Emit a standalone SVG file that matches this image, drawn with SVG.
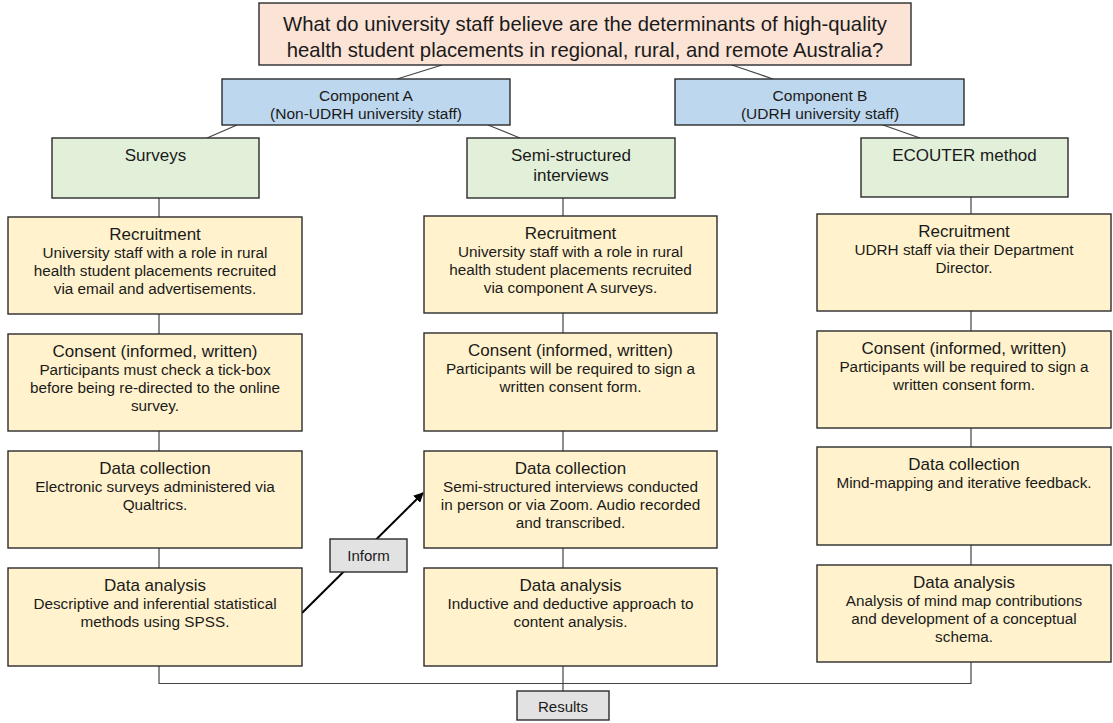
<svg xmlns="http://www.w3.org/2000/svg" width="1113" height="723" viewBox="0 0 1113 723">
<defs>
<style>
.bx{stroke:#2b2b2b;stroke-width:1.4}
.q{fill:#fbe3d6}
.c{fill:#bdd7ee}
.g{fill:#e2efd9}
.y{fill:#fff2cc}
.gr{fill:#e2e2e2}
text{font-family:"Liberation Sans",Arial,sans-serif;fill:#1a1a1a;text-anchor:middle}
.qt{font-size:20.3px}
.ct{font-size:15.5px}
.lt{font-size:15px}
.ht{font-size:17px}
.bt{font-size:15.3px}
.conn line,.conn polyline{stroke:#444;stroke-width:1.2;fill:none}
</style>
<marker id="ah" markerWidth="10" markerHeight="10" refX="9" refY="5" orient="auto" markerUnits="userSpaceOnUse">
<path d="M0,0 L10,5 L0,10 Z" fill="#000"/>
</marker>
<clipPath id="clipA"><rect x="222" y="79" width="288" height="46"/></clipPath>
<clipPath id="clipB"><rect x="675" y="79" width="289" height="46"/></clipPath>
</defs>
<rect width="1113" height="723" fill="#fff"/>

<g id="connectors" class="conn">
<line x1="442" y1="65" x2="397" y2="79"/>
<line x1="732" y1="65" x2="773" y2="79"/>
<line x1="237" y1="125" x2="207" y2="138"/>
<line x1="488" y1="125" x2="520" y2="138"/>
<line x1="883" y1="125" x2="920" y2="138"/>
<line x1="159" y1="198" x2="159" y2="217"/>
<line x1="159" y1="314" x2="159" y2="334"/>
<line x1="159" y1="431" x2="159" y2="451"/>
<line x1="159" y1="548" x2="159" y2="568"/>
<line x1="563" y1="198" x2="563" y2="216"/>
<line x1="563" y1="313" x2="563" y2="333"/>
<line x1="563" y1="431" x2="563" y2="451"/>
<line x1="563" y1="548" x2="563" y2="568"/>
<line x1="563" y1="666" x2="563" y2="691"/>
<line x1="971" y1="197" x2="971" y2="214"/>
<line x1="971" y1="311" x2="971" y2="331"/>
<line x1="971" y1="428" x2="971" y2="447"/>
<line x1="971" y1="545" x2="971" y2="565"/>
<polyline points="159,666 159,683.5 971,683.5 971,662"/>
<line x1="302" y1="613" x2="423" y2="493" style="stroke:#000;stroke-width:2" marker-end="url(#ah)"/>
</g>

<g id="question">
<rect class="bx q" x="259" y="3" width="652" height="62"/>
<text class="qt" x="585" y="31">What do university staff believe are the determinants of high-quality</text>
<text class="qt" x="585" y="57">health student placements in regional, rural, and remote Australia?</text>
</g>

<g id="compA">
<rect class="bx c" x="222" y="79" width="288" height="46"/>
<g clip-path="url(#clipA)">
<text class="ct" x="366" y="101">Component A</text>
<text class="ct" x="366" y="118.5">(Non-UDRH university staff)</text>
</g>
</g>
<g id="compB">
<rect class="bx c" x="675" y="79" width="289" height="46"/>
<g clip-path="url(#clipB)">
<text class="ct" x="820" y="101">Component B</text>
<text class="ct" x="820" y="118.5">(UDRH university staff)</text>
</g>
</g>

<g id="surveys">
<rect class="bx g" x="52" y="138" width="207" height="60"/>
<text class="ht" x="155.5" y="161">Surveys</text>
</g>
<g id="semi">
<rect class="bx g" x="467" y="138" width="208" height="60"/>
<text class="ht" x="571" y="161">Semi-structured</text>
<text class="ht" x="571" y="181">interviews</text>
</g>
<g id="ecouter">
<rect class="bx g" x="861" y="138" width="207" height="59"/>
<text class="ht" x="964.5" y="161">ECOUTER method</text>
</g>

<g id="a-recruit">
<rect class="bx y" x="8" y="217" width="294" height="97"/>
<text class="ht" x="155" y="240">Recruitment</text>
<text class="bt" x="155" y="258">University staff with a role in rural</text>
<text class="bt" x="155" y="276">health student placements recruited</text>
<text class="bt" x="155" y="293.5">via email and advertisements.</text>
</g>
<g id="a-consent">
<rect class="bx y" x="8" y="334" width="294" height="97"/>
<text class="ht" x="155" y="357">Consent (informed, written)</text>
<text class="bt" x="155" y="375">Participants must check a tick-box</text>
<text class="bt" x="155" y="393">before being re-directed to the online</text>
<text class="bt" x="155" y="410.5">survey.</text>
</g>
<g id="a-collect">
<rect class="bx y" x="8" y="451" width="294" height="97"/>
<text class="ht" x="155" y="474">Data collection</text>
<text class="bt" x="155" y="492">Electronic surveys administered via</text>
<text class="bt" x="155" y="509.5">Qualtrics.</text>
</g>
<g id="a-analysis">
<rect class="bx y" x="8" y="568" width="294" height="98"/>
<text class="ht" x="155" y="591">Data analysis</text>
<text class="bt" x="155" y="609">Descriptive and inferential statistical</text>
<text class="bt" x="155" y="626.5">methods using SPSS.</text>
</g>

<g id="m-recruit">
<rect class="bx y" x="424" y="216" width="293" height="97"/>
<text class="ht" x="570.5" y="239">Recruitment</text>
<text class="bt" x="570.5" y="257">University staff with a role in rural</text>
<text class="bt" x="570.5" y="275">health student placements recruited</text>
<text class="bt" x="570.5" y="292.5">via component A surveys.</text>
</g>
<g id="m-consent">
<rect class="bx y" x="424" y="333" width="293" height="98"/>
<text class="ht" x="570.5" y="356">Consent (informed, written)</text>
<text class="bt" x="570.5" y="374">Participants will be required to sign a</text>
<text class="bt" x="570.5" y="392">written consent form.</text>
</g>
<g id="m-collect">
<rect class="bx y" x="424" y="451" width="293" height="97"/>
<text class="ht" x="570.5" y="474">Data collection</text>
<text class="bt" x="570.5" y="492">Semi-structured interviews conducted</text>
<text class="bt" x="570.5" y="510">in person or via Zoom. Audio recorded</text>
<text class="bt" x="570.5" y="527.5">and transcribed.</text>
</g>
<g id="m-analysis">
<rect class="bx y" x="424" y="568" width="293" height="98"/>
<text class="ht" x="570.5" y="591">Data analysis</text>
<text class="bt" x="570.5" y="609">Inductive and deductive approach to</text>
<text class="bt" x="570.5" y="626.5">content analysis.</text>
</g>

<g id="b-recruit">
<rect class="bx y" x="817" y="214" width="294" height="97"/>
<text class="ht" x="964" y="237">Recruitment</text>
<text class="bt" x="964" y="255">UDRH staff via their Department</text>
<text class="bt" x="964" y="273">Director.</text>
</g>
<g id="b-consent">
<rect class="bx y" x="817" y="331" width="294" height="97"/>
<text class="ht" x="964" y="354">Consent (informed, written)</text>
<text class="bt" x="964" y="372">Participants will be required to sign a</text>
<text class="bt" x="964" y="390">written consent form.</text>
</g>
<g id="b-collect">
<rect class="bx y" x="817" y="447" width="294" height="98"/>
<text class="ht" x="964" y="470">Data collection</text>
<text class="bt" x="964" y="488">Mind-mapping and iterative feedback.</text>
</g>
<g id="b-analysis">
<rect class="bx y" x="817" y="565" width="294" height="97"/>
<text class="ht" x="964" y="588">Data analysis</text>
<text class="bt" x="964" y="606">Analysis of mind map contributions</text>
<text class="bt" x="964" y="624">and development of a conceptual</text>
<text class="bt" x="964" y="641.5">schema.</text>
</g>

<g id="inform">
<rect class="bx gr" x="330" y="539" width="77" height="33"/>
<text class="lt" x="368.5" y="561">Inform</text>
</g>
<g id="results">
<rect class="bx gr" x="517" y="691" width="92" height="29"/>
<text class="lt" x="563" y="712">Results</text>
</g>
</svg>
